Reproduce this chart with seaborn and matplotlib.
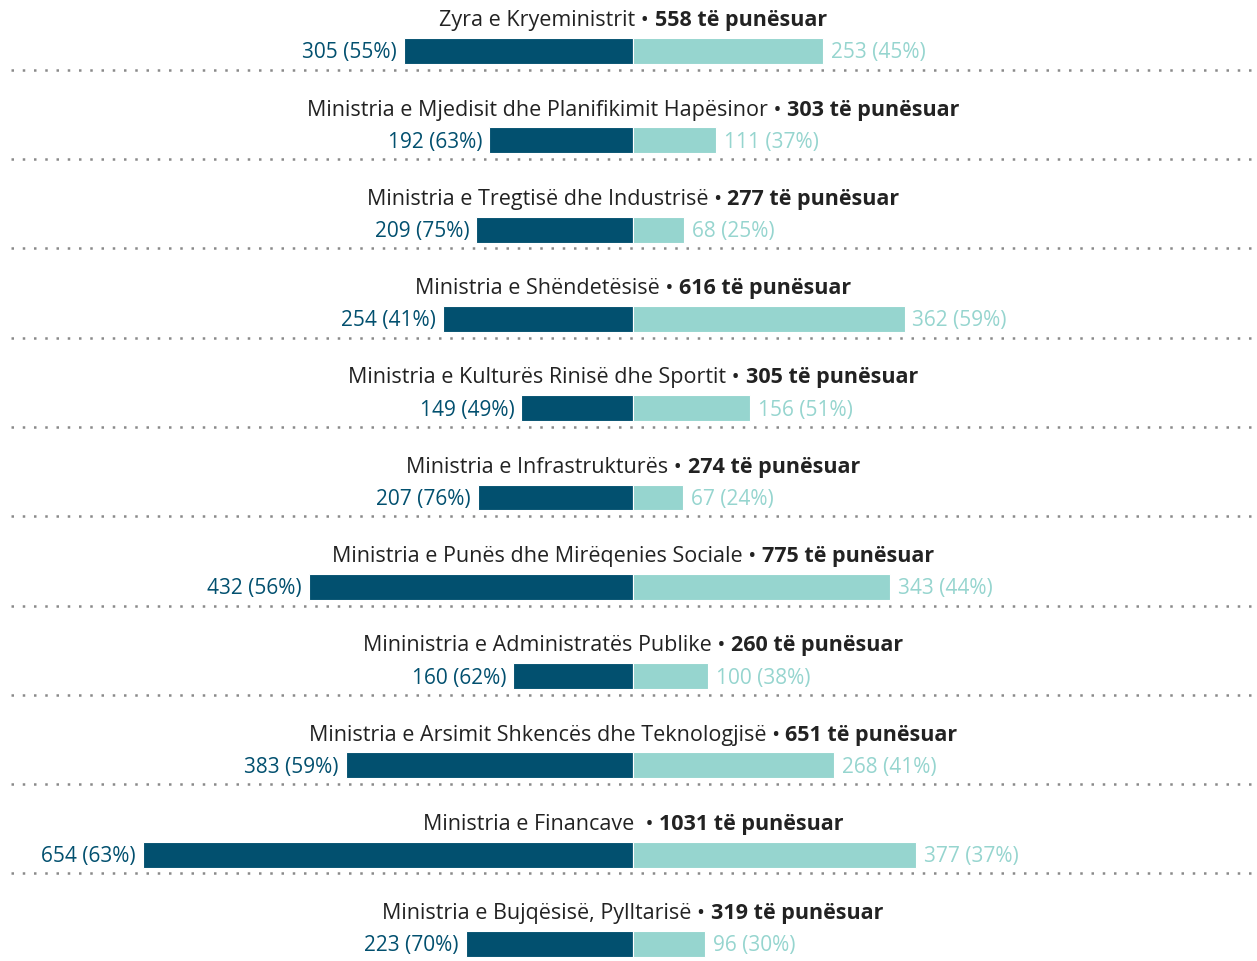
import matplotlib
matplotlib.use("Agg")
import matplotlib.pyplot as plt
import seaborn as sns
import pandas as pd

# data
institutions = [
    "Zyra e Kryeministrit",
    "Ministria e Mjedisit dhe Planifikimit Hapësinor",
    "Ministria e Tregtisë dhe Industrisë",
    "Ministria e Shëndetësisë",
    "Ministria e Kulturës Rinisë dhe Sportit",
    "Ministria e Infrastrukturës",
    "Ministria e Punës dhe Mirëqenies Sociale",
    "Mininistria e Administratës Publike",
    "Ministria e Arsimit Shkencës dhe Teknologjisë",
    "Ministria e Financave ",
    "Ministria e Bujqësisë, Pylltarisë",
]
left_counts = [305, 192, 209, 254, 149, 207, 432, 160, 383, 654, 223]
left_pct = [55, 63, 75, 41, 49, 76, 56, 62, 59, 63, 70]
right_counts = [253, 111, 68, 362, 156, 67, 343, 100, 268, 377, 96]
right_pct = [45, 37, 25, 59, 51, 24, 44, 38, 41, 37, 30]
totals = [558, 303, 277, 616, 305, 274, 775, 260, 651, 1031, 319]

DARK = "#02506f"
LIGHT = "#96d5cf"
TEXT = "#222222"

df = pd.DataFrame({
    "inst": institutions,
    "left": [-v for v in left_counts],
    "right": right_counts,
})

sns.set_theme(style="white")
plt.rcParams["font.family"] = ["Open Sans", "DejaVu Sans"]

fig = plt.figure(figsize=(12.57, 9.62), dpi=100)
ax = fig.add_axes([0, 0, 1, 1])

sns.barplot(data=df, x="left", y="inst", orient="h", color=DARK, width=0.29,
            saturation=1, ax=ax, edgecolor="white", linewidth=0.8)
sns.barplot(data=df, x="right", y="inst", orient="h", color=LIGHT, width=0.29,
            saturation=1, ax=ax, edgecolor="white", linewidth=0.8)

ax.set_xlim(-844, 832)
ax.set_ylim(10.19, -0.582)
ax.axis("off")

renderer = fig.canvas.get_renderer()
px = 0.75  # data units -> pixels (approx)

for i, inst in enumerate(institutions):
    # side labels
    ax.text(-left_counts[i] - 7 / px, i + 0.01, f"{left_counts[i]} ({left_pct[i]}%)",
            ha="right", va="center", fontsize=15, color=DARK)
    ax.text(right_counts[i] + 8 / px, i + 0.01, f"{right_counts[i]} ({right_pct[i]}%)",
            ha="left", va="center", fontsize=15, color=LIGHT)

    # title: normal part + bold part, centred together on zero
    ty = i - 0.35
    t1 = ax.text(0, ty, inst + " \u2022 ", ha="right", va="center",
                 fontsize=15.5, color=TEXT)
    t2 = ax.text(0, ty, f"{totals[i]} të punësuar", ha="left", va="center",
                 fontsize=15.5, color=TEXT, fontweight="bold")
    w1 = t1.get_window_extent(renderer).width
    w2 = t2.get_window_extent(renderer).width
    shift = (w1 - w2) / 2 / px
    t1.set_x(shift)
    t2.set_x(shift)

    # dotted separator
    if i < len(institutions) - 1:
        ax.plot([-830, 832], [i + 0.21, i + 0.21], color="#8a8a8a",
                linestyle=(0, (1, 3.5)), linewidth=1.8)

fig.savefig("out.png", dpi=100)
